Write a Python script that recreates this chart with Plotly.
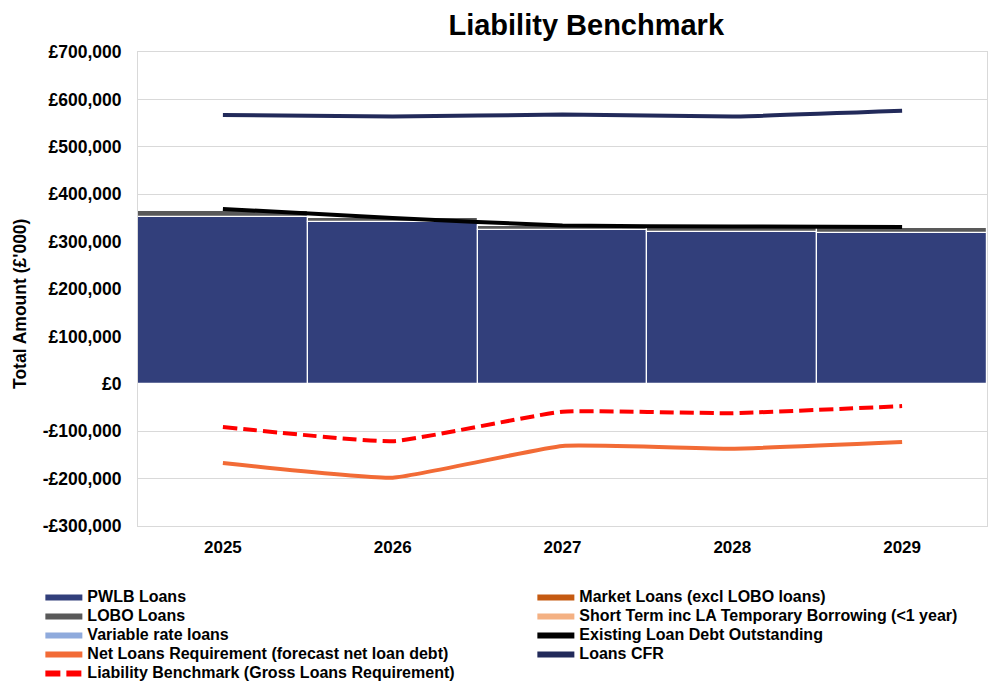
import plotly.graph_objects as go

years = ["2025", "2026", "2027", "2028", "2029"]

pwlb_loans = [352000, 341000, 324000, 321000, 318000]
lobo_loans = [12000, 9000, 8000, 8000, 10000]
market_loans = [0, 0, 0, 0, 0]
short_term = [0, 0, 0, 0, 0]
variable_rate = [0, 0, 0, 0, 0]

existing_debt = [369000, 350000, 334000, 332000, 331000]
net_loans_req = [-167000, -198000, -131000, -137000, -123000]
loans_cfr = [567000, 564000, 568000, 564000, 576000]
liability_benchmark = [-91000, -121000, -59000, -62000, -47000]

tick_vals = [-300000, -200000, -100000, 0, 100000, 200000, 300000, 400000, 500000, 600000, 700000]
tick_text = ["-£300,000", "-£200,000", "-£100,000", "£0", "£100,000", "£200,000",
             "£300,000", "£400,000", "£500,000", "£600,000", "£700,000"]

C_PWLB = "#323F7B"
C_MARKET = "#C55A11"
C_LOBO = "#595959"
C_SHORT = "#F4B183"
C_VAR = "#8FAADC"
C_EXIST = "#000000"
C_NET = "#F26B36"
C_CFR = "#222A5A"
C_LB = "#FF0000"

FONT = "Liberation Sans, Arial, sans-serif"

fig = go.Figure()

bar_series = [
    ("PWLB Loans", pwlb_loans, C_PWLB),
    ("Market Loans (excl LOBO loans)", market_loans, C_MARKET),
    ("LOBO Loans", lobo_loans, C_LOBO),
    ("Short Term inc LA Temporary Borrowing (<1 year)", short_term, C_SHORT),
    ("Variable rate loans", variable_rate, C_VAR),
]
for name, vals, col in bar_series:
    fig.add_trace(go.Bar(x=years, y=vals, name=name, marker=dict(color=col, line=dict(color="white", width=1.2)),
                         showlegend=False, legendgroup=name))

line_series = {
    "Existing Loan Debt Outstanding": (existing_debt, C_EXIST, "solid"),
    "Net Loans Requirement (forecast net loan debt)": (net_loans_req, C_NET, "solid"),
    "Loans CFR": (loans_cfr, C_CFR, "solid"),
    "Liability Benchmark (Gross Loans Requirement)": (liability_benchmark, C_LB, "14px,6px"),
}
for name, (vals, col, dash) in line_series.items():
    fig.add_trace(go.Scatter(x=years, y=vals, name=name, mode="lines",
                             line=dict(color=col, width=4, dash=dash, shape="spline", smoothing=0.4),
                             showlegend=False, legendgroup=name))

# legend entries, in Excel's row-wise order
legend_order = [
    ("PWLB Loans", C_PWLB, "solid"),
    ("Market Loans (excl LOBO loans)", C_MARKET, "solid"),
    ("LOBO Loans", C_LOBO, "solid"),
    ("Short Term inc LA Temporary Borrowing (<1 year)", C_SHORT, "solid"),
    ("Variable rate loans", C_VAR, "solid"),
    ("Existing Loan Debt Outstanding", C_EXIST, "solid"),
    ("Net Loans Requirement (forecast net loan debt)", C_NET, "solid"),
    ("Loans CFR", C_CFR, "solid"),
    ("Liability Benchmark (Gross Loans Requirement)", C_LB, "15px,6px"),
]
for name, col, dash in legend_order:
    label = f'<span style="font-size:16px"><b>{name}</b></span>'
    fig.add_trace(go.Scatter(x=[None], y=[None], name=label, mode="lines",
                             line=dict(color=col, width=6, dash=dash), legendgroup=name, showlegend=True))

fig.update_layout(
    width=997, height=682,
    paper_bgcolor="white", plot_bgcolor="white",
    barmode="relative", bargap=0,
    margin=dict(l=138, r=10, t=52, b=156, autoexpand=False),
    font=dict(family=FONT, color="#000000"),
    title=dict(text="<b>Liability Benchmark</b>", x=0.588, xanchor="center", xref="container",
               y=0.963, yanchor="middle", font=dict(size=29, family=FONT, color="#000")),
    xaxis=dict(type="category", showgrid=False, ticks="", tickfont=dict(size=17, family=FONT),
               showline=True, linecolor="#D9D9D9", mirror=True, range=[-0.5, 4.5], automargin=False,
               ticklabelstandoff=6),
    yaxis=dict(range=[-300000, 700000], tickvals=tick_vals, ticktext=[f"<b>{t}</b>" for t in tick_text],
               tickfont=dict(size=17.5, family=FONT), showgrid=True, gridcolor="#D9D9D9", gridwidth=1,
               zeroline=False, showline=True, linecolor="#D9D9D9", mirror=True, automargin=False,
               ticklabelstandoff=12),
    legend=dict(orientation="h", xref="paper", yref="paper", x=-0.115, y=-0.12,
                xanchor="left", yanchor="top", entrywidth=440, itemwidth=37,
                font=dict(size=12, family=FONT), tracegroupgap=0, traceorder="normal"),
    annotations=[dict(text="<b>Total Amount (£'000)</b>", textangle=-90, xref="paper", yref="paper",
                      x=(20 - 138) / 849, y=(682 - 156 - 304) / 474, xanchor="center", yanchor="middle",
                      showarrow=False, font=dict(size=17.5, family=FONT, color="#000"))],
)
fig.update_xaxes(ticktext=[f"<b>{y}</b>" for y in years], tickvals=years)

fig.write_html("out.html", post_script="document.body.style.margin='0';",
               config={"displayModeBar": False})
